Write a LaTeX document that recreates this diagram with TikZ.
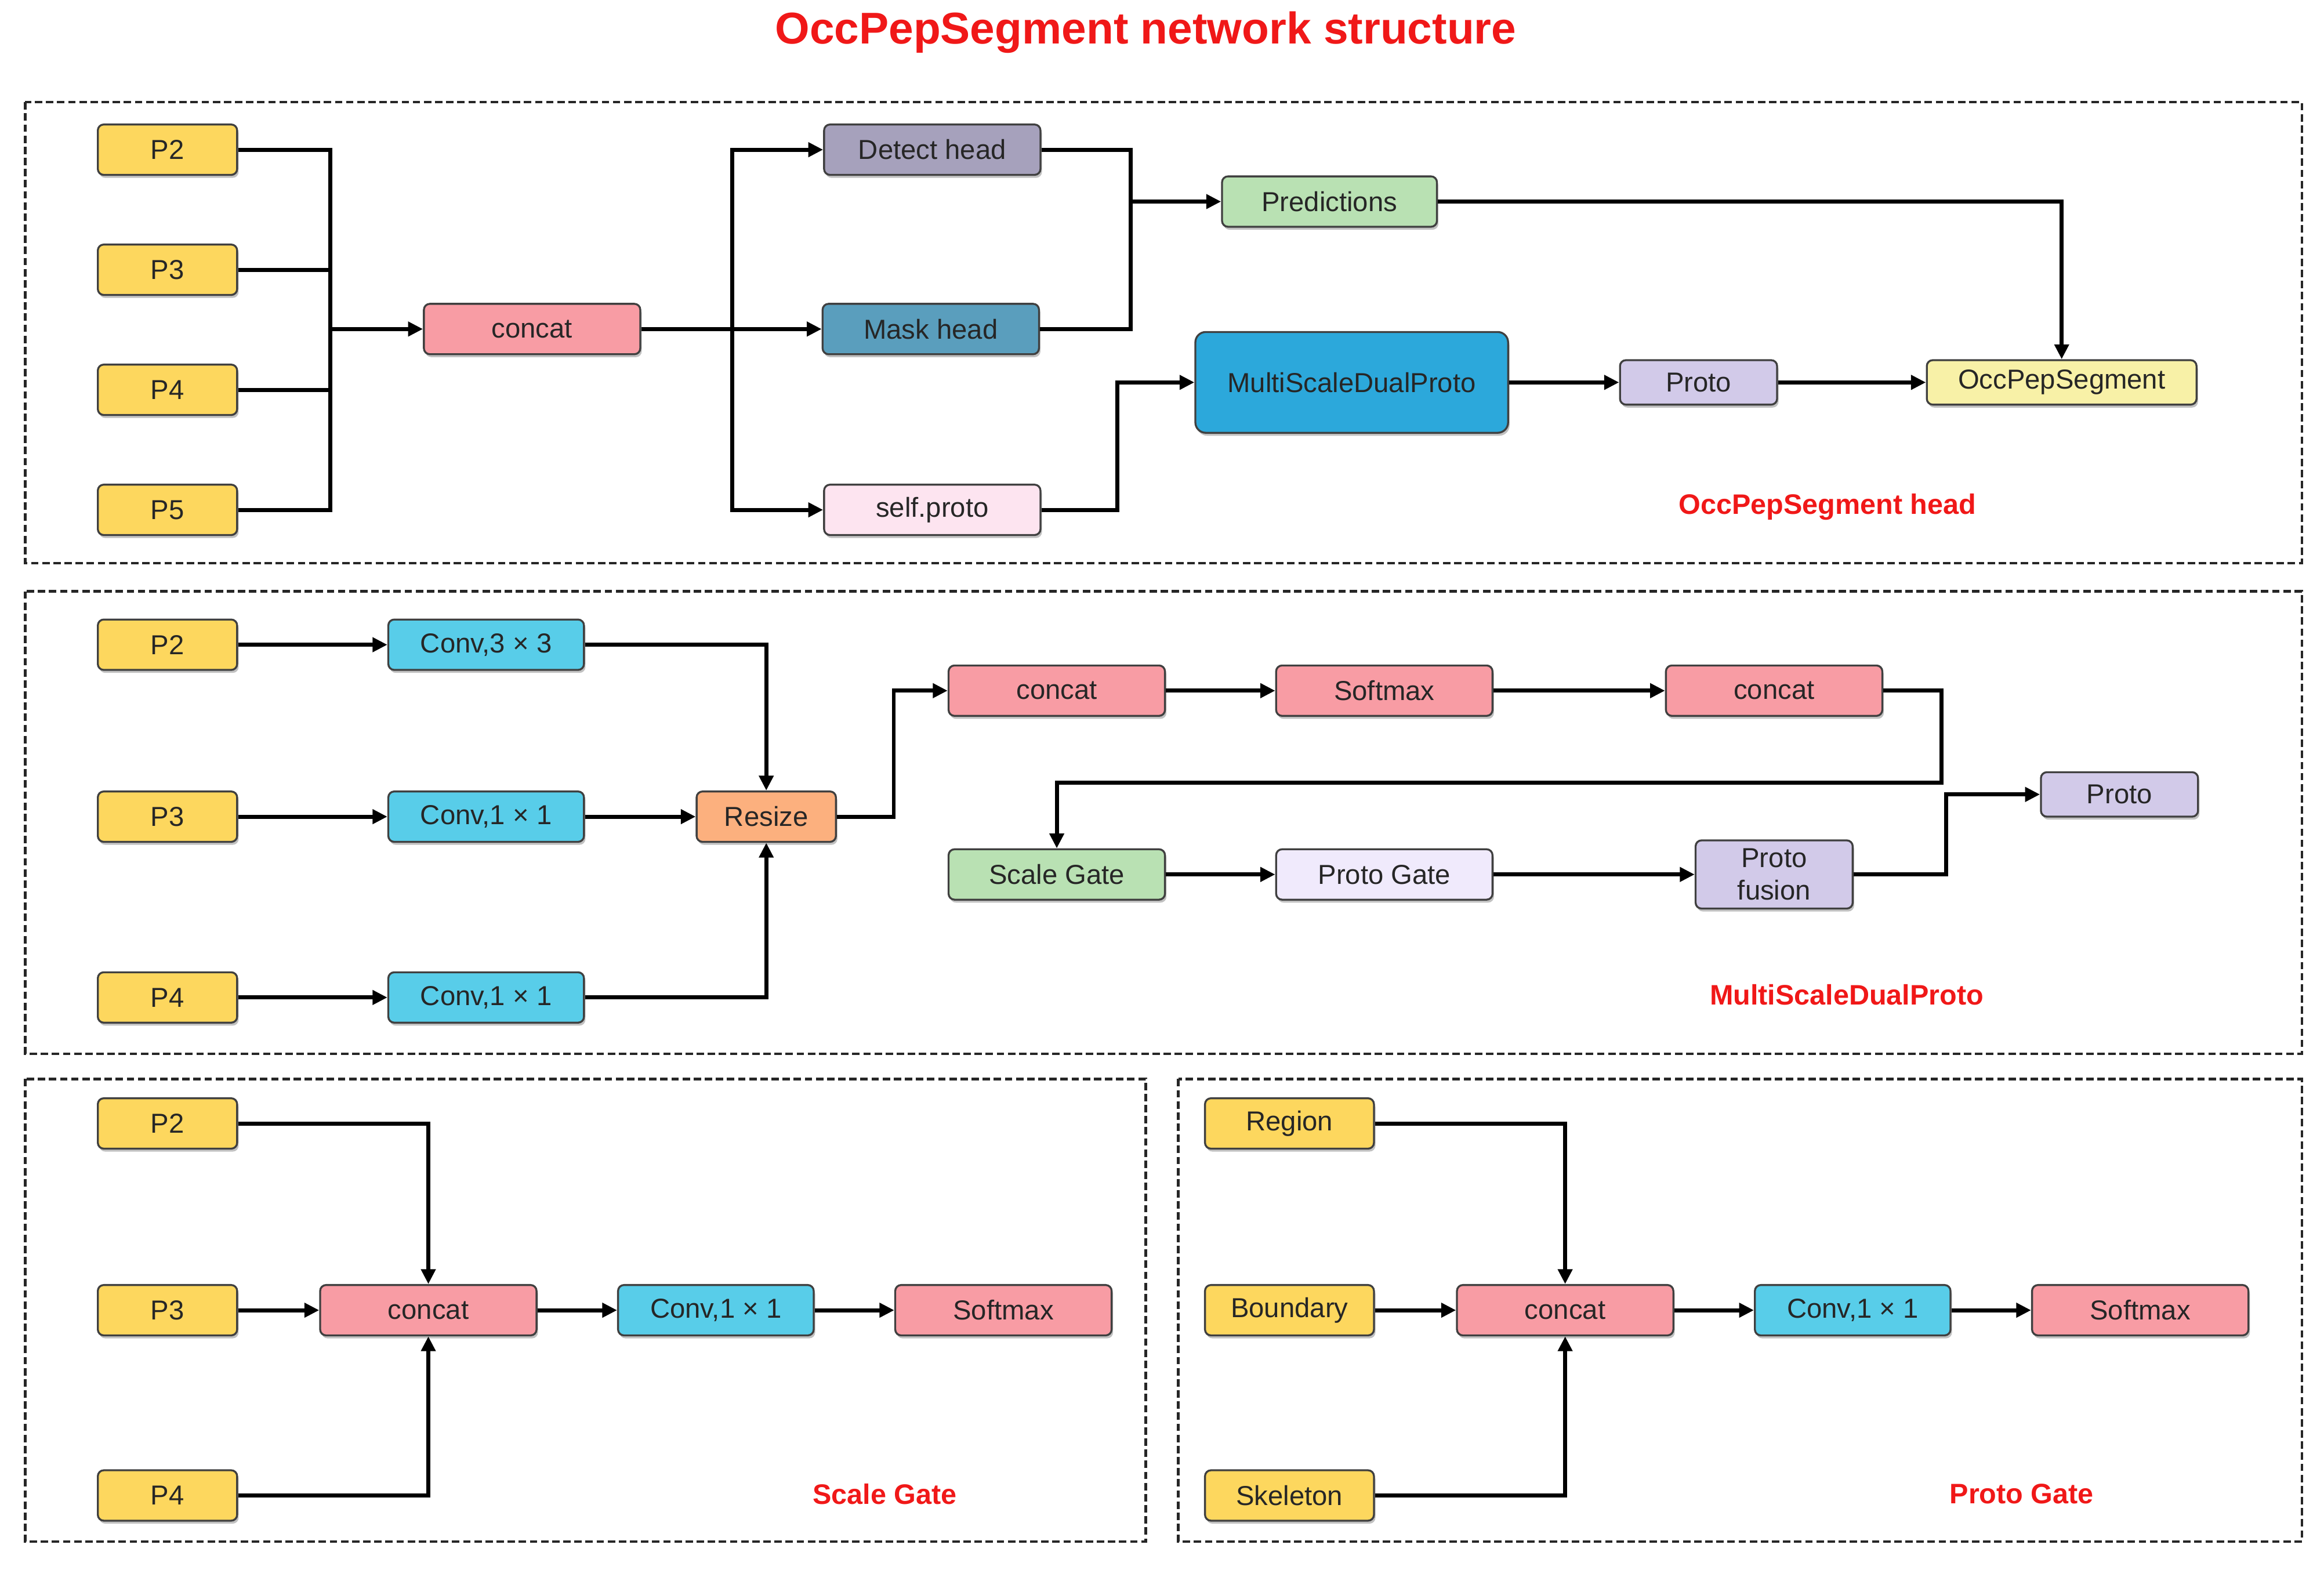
\documentclass[tikz,border=0pt]{standalone}
\usepackage{fontspec}
\setmainfont{Liberation Sans}
\usetikzlibrary{arrows.meta,shadows}
\definecolor{cyel}{HTML}{FDD75E}
\definecolor{cpink}{HTML}{F89CA4}
\definecolor{cdet}{HTML}{A6A1BC}
\definecolor{cmask}{HTML}{5A9EBD}
\definecolor{cself}{HTML}{FDE4F0}
\definecolor{cgreen}{HTML}{B9E1B3}
\definecolor{cmsdp}{HTML}{2CA8DB}
\definecolor{cproto}{HTML}{D2CAE9}
\definecolor{cocc}{HTML}{F8F1A7}
\definecolor{cconv}{HTML}{58CDE9}
\definecolor{cresize}{HTML}{FCB07E}
\definecolor{cpgate}{HTML}{F0EAFC}
\definecolor{cred}{HTML}{F01818}
\begin{document}
\begin{tikzpicture}[x=1pt,y=-1pt,
  box/.style={draw=black!75, line width=1.3pt, rounded corners=4pt,
    font=\fontsize{18.5}{19}\selectfont, text=black!85, inner sep=0pt,
    minimum height=34pt, align=center,
    drop shadow={opacity=0.35, shadow xshift=1pt, shadow yshift=-2pt, fill=black!70}},
  wP/.style={box, fill=cyel, minimum width=94pt},
  wC/.style={box, fill=cpink, minimum width=146pt},
  wV/.style={box, fill=cconv, minimum width=132pt},
  ln/.style={line width=2.7pt, black},
  arr/.style={line width=2.7pt, black, -{Triangle[length=10pt,width=9.5pt]}},
  dbox/.style={draw=black!85, line width=1.7pt, dash pattern=on 5pt off 2.5pt},
  lab/.style={font=\fontsize{19}{20}\bfseries\selectfont, text=cred}
]
\useasboundingbox (0,0) rectangle (1568,1059);

% title
\node[font=\fontsize{30}{32}\bfseries\selectfont, text=cred] (title) at (773,22) {OccPepSegment network structure};

% dashed frames
\draw[dbox] (17,69) rectangle (1553,380);
\draw[dbox] (17,399) rectangle (1553,711);
\draw[dbox] (17,728) rectangle (773,1040);
\draw[dbox] (795,728) rectangle (1553,1040);

% ---------- top: OccPepSegment head ----------
\node[wP] (hP2) at (113,101) {P2};
\node[wP] (hP3) at (113,182) {P3};
\node[wP] (hP4) at (113,263) {P4};
\node[wP] (hP5) at (113,344) {P5};
\node[wC] (hcat) at (359,222) {concat};
\node[box, fill=cdet, minimum width=146pt] (det) at (629,101) {Detect head};
\node[box, fill=cmask, minimum width=146pt] (mask) at (628,222) {Mask head};
\node[box, fill=cself, minimum width=146pt] (sp) at (629,344) {self.proto};
\node[box, fill=cgreen, minimum width=145pt] (pred) at (897,136) {Predictions};
\node[box, fill=cmsdp, minimum width=211pt, minimum height=68pt, rounded corners=7pt] (msdp) at (912,258) {MultiScaleDualProto};
\node[box, fill=cproto, minimum width=106pt, minimum height=30pt] (hproto) at (1146,258) {Proto};
\node[box, fill=cocc, minimum width=182pt, minimum height=30pt] (occ) at (1391,258) {OccPepSegment};
\node[lab] (lab1) at (1233,342) {OccPepSegment head};

\coordinate (b1) at (223,222);
\coordinate (b2) at (494,222);
\coordinate (b3) at (763,136);
\coordinate (b4) at (754,258);
\draw[ln] (hP2.east) -| (b1);
\draw[ln] (hP3.east) -| (b1);
\draw[ln] (hP4.east) -| (b1);
\draw[ln] (hP5.east) -| (b1);
\draw[arr] (b1) -- (hcat.west);
\draw[ln] (hcat.east) -- (b2);
\draw[arr] (b2) |- (det.west);
\draw[arr] (b2) -- (mask.west);
\draw[arr] (b2) |- (sp.west);
\draw[ln] (det.east) -| (b3);
\draw[ln] (mask.east) -| (b3);
\draw[arr] (b3) -- (pred.west);
\draw[arr] (sp.east) -| (b4) -- (msdp.west);
\draw[arr] (msdp.east) -- (hproto.west);
\draw[arr] (hproto.east) -- (occ.west);
\draw[arr] (pred.east) -| (occ.north);

% ---------- middle: MultiScaleDualProto ----------
\node[wP] (mP2) at (113,435) {P2};
\node[wP] (mP3) at (113,551) {P3};
\node[wP] (mP4) at (113,673) {P4};
\node[wV] (mc3) at (328,435) {Conv,3 × 3};
\node[wV] (mc1a) at (328,551) {Conv,1 × 1};
\node[wV] (mc1b) at (328,673) {Conv,1 × 1};
\node[box, fill=cresize, minimum width=94pt] (rs) at (517,551) {Resize};
\node[wC] (mcat) at (713,466) {concat};
\node[wC] (msoft) at (934,466) {Softmax};
\node[wC] (mcat2) at (1197,466) {concat};
\node[box, fill=cgreen, minimum width=146pt] (sg) at (713,590) {Scale Gate};
\node[box, fill=cpgate, minimum width=146pt] (pg) at (934,590) {Proto Gate};
\node[box, fill=cproto, minimum width=106pt, minimum height=46pt] (pf) at (1197,590) {Proto\\[3pt]fusion};
\node[box, fill=cproto, minimum width=106pt, minimum height=30pt] (mproto) at (1430,536) {Proto};
\node[lab] (lab2) at (1246,671) {MultiScaleDualProto};

\coordinate (b5) at (603,466);
\coordinate (b6) at (1310,528);
\coordinate (b7) at (1313,536);
\draw[arr] (mP2.east) -- (mc3.west);
\draw[arr] (mP3.east) -- (mc1a.west);
\draw[arr] (mP4.east) -- (mc1b.west);
\draw[arr] (mc3.east) -| (rs.north);
\draw[arr] (mc1a.east) -- (rs.west);
\draw[arr] (mc1b.east) -| (rs.south);
\draw[arr] (rs.east) -| (b5) -- (mcat.west);
\draw[arr] (mcat.east) -- (msoft.west);
\draw[arr] (msoft.east) -- (mcat2.west);
\draw[arr] (mcat2.east) -| (b6) -| (sg.north);
\draw[arr] (sg.east) -- (pg.west);
\draw[arr] (pg.east) -- (pf.west);
\draw[arr] (pf.east) -| (b7) -- (mproto.west);

% ---------- bottom left: Scale Gate ----------
\node[wP] (sP2) at (113,758) {P2};
\node[wP] (sP3) at (113,884) {P3};
\node[wP] (sP4) at (113,1009) {P4};
\node[wC] (scat) at (289,884) {concat};
\node[wV] (sconv) at (483,884) {Conv,1 × 1};
\node[wC] (ssoft) at (677,884) {Softmax};
\node[lab] (lab3) at (597,1008) {Scale Gate};
\draw[arr] (sP2.east) -| (scat.north);
\draw[arr] (sP3.east) -- (scat.west);
\draw[arr] (sP4.east) -| (scat.south);
\draw[arr] (scat.east) -- (sconv.west);
\draw[arr] (sconv.east) -- (ssoft.west);

% ---------- bottom right: Proto Gate ----------
\node[box, fill=cyel, minimum width=114pt] (reg) at (870,758) {Region};
\node[box, fill=cyel, minimum width=114pt] (bnd) at (870,884) {Boundary};
\node[box, fill=cyel, minimum width=114pt] (skel) at (870,1009) {Skeleton};
\node[wC] (pcat) at (1056,884) {concat};
\node[wV] (pconv) at (1250,884) {Conv,1 × 1};
\node[wC] (psoft) at (1444,884) {Softmax};
\node[lab] (lab4) at (1364,1008) {Proto Gate};
\draw[arr] (reg.east) -| (pcat.north);
\draw[arr] (bnd.east) -- (pcat.west);
\draw[arr] (skel.east) -| (pcat.south);
\draw[arr] (pcat.east) -- (pconv.west);
\draw[arr] (pconv.east) -- (psoft.west);
\end{tikzpicture}
\end{document}
